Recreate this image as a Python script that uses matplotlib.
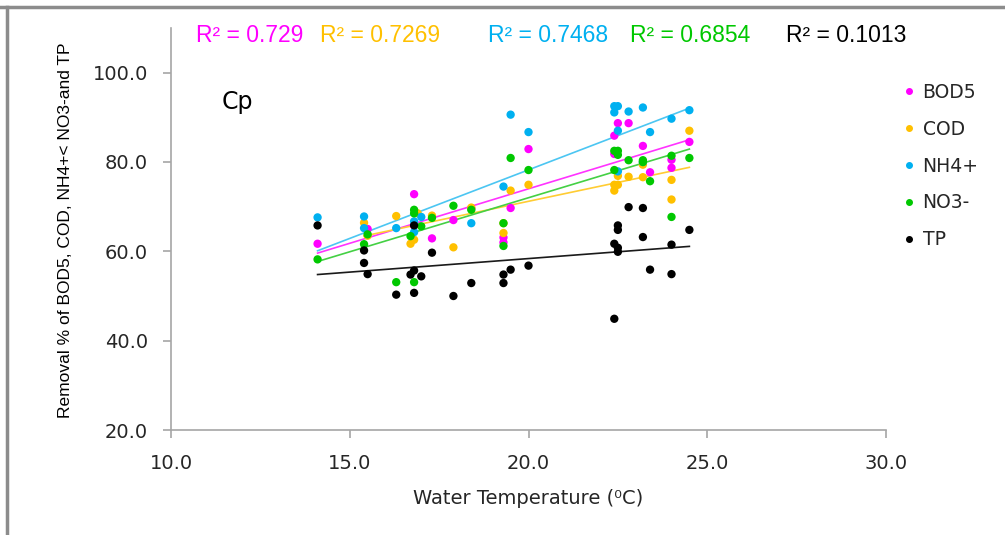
import matplotlib
matplotlib.use('Agg')
import matplotlib.pyplot as plt
from matplotlib.lines import Line2D
import numpy as np

# ---------------- data ----------------
bod5_x = [14.1, 15.5, 16.8, 16.8, 17.3, 17.9, 18.4, 19.3, 19.3, 19.5, 20.0,
          22.4, 22.4, 22.5, 22.8, 23.2, 23.4, 24.0, 24.0, 24.5]
bod5_y = [61.7, 65.0, 72.8, 65.8, 62.9, 67.0, 69.6, 63.1, 62.0, 69.7, 82.9,
          81.8, 85.9, 88.7, 88.7, 83.6, 77.7, 80.5, 78.7, 84.5]

cod_x = [15.4, 15.5, 16.3, 16.7, 16.8, 16.9, 17.3, 17.9, 18.4, 19.3, 19.3, 19.5, 20.0,
         22.4, 22.4, 22.5, 22.5, 22.8, 23.2, 23.2, 24.0, 24.0, 24.5]
cod_y = [66.4, 63.5, 67.9, 61.7, 62.6, 68.5, 68.0, 60.9, 69.8, 66.3, 64.1, 73.6, 74.9,
         74.9, 73.6, 76.9, 74.9, 76.7, 79.4, 76.6, 76.0, 71.6, 87.0]

nh4_x = [14.1, 15.4, 15.4, 16.3, 16.8, 16.8, 17.0, 18.4, 19.3, 19.5, 20.0,
         22.4, 22.5, 22.4, 22.5, 22.5, 22.8, 23.2, 23.2, 23.4, 24.0, 24.5]
nh4_y = [67.6, 67.8, 65.2, 65.2, 66.7, 64.3, 67.7, 66.3, 74.5, 90.6, 86.7,
         92.5, 92.5, 91.1, 87.0, 77.9, 91.3, 92.2, 80.0, 86.7, 89.7, 91.6]

no3_x = [14.1, 15.4, 15.5, 16.3, 16.7, 16.8, 16.8, 17.0, 16.8, 17.3, 17.9, 18.4,
         19.3, 19.3, 19.5, 20.0, 22.4, 22.5, 22.5, 22.4, 22.8, 23.2, 23.2, 23.4,
         24.0, 24.0, 24.5]
no3_y = [58.2, 61.6, 63.8, 53.1, 63.4, 69.3, 68.5, 65.6, 53.1, 67.5, 70.2, 69.3,
         66.3, 61.2, 80.9, 78.2, 82.5, 82.5, 81.6, 78.2, 80.4, 80.4, 80.0, 75.7,
         81.4, 67.7, 80.9]

tp_x = [14.1, 15.4, 15.4, 15.5, 16.3, 16.7, 16.8, 16.8, 16.8, 17.0, 17.3, 17.9,
        18.4, 19.3, 19.3, 19.5, 20.0, 22.4, 22.5, 22.5, 22.5, 22.5, 22.4, 22.8,
        23.2, 23.2, 23.4, 24.0, 24.0, 24.5]
tp_y = [65.8, 60.2, 57.4, 54.9, 50.3, 54.8, 55.7, 65.8, 50.7, 54.4, 59.7, 50.0,
        52.9, 54.8, 52.9, 55.9, 56.8, 61.7, 65.8, 64.8, 60.8, 59.9, 44.9, 69.9,
        69.7, 63.2, 55.9, 61.5, 54.9, 64.8]

series_names = ['BOD5', 'COD', 'NH4+', 'NO3-', 'TP']
# linear trend lines (slope, intercept)
trend_slope = [2.44, 1.69, 3.07, 2.42, 0.606]
trend_icpt = [25.2, 37.4, 16.84, 23.6, 46.26]
r2_labels = ['R\u00b2 = 0.729', 'R\u00b2 = 0.7269', 'R\u00b2 = 0.7468',
             'R\u00b2 = 0.6854', 'R\u00b2 = 0.1013']

x_ticks = [10.0, 15.0, 20.0, 25.0, 30.0]
y_ticks = [20.0, 40.0, 60.0, 80.0, 100.0]

# ---------------- styling ----------------
pt_colors = ['#FF00FF', '#FFC000', '#00B0F0', '#00C800', '#000000']
ln_colors = ['#FF33FF', '#FFCC33', '#4CC6F2', '#44D044', '#1A1A1A']
r2_colors = ['#FF00FF', '#FFC000', '#00B0F0', '#00C800', '#000000']
r2_x_px = [196, 320, 488, 630, 786]

W, H = 1005, 535
fig = plt.figure(figsize=(W / 100, H / 100), dpi=100)
ax = fig.add_axes([171 / W, 1 - 430 / H, (886 - 171) / W, (430 - 28) / H])

xs = [bod5_x, cod_x, nh4_x, no3_x, tp_x]
ys = [bod5_y, cod_y, nh4_y, no3_y, tp_y]

handles = []
for i in range(5):
    ax.scatter(xs[i], ys[i], s=36, color=pt_colors[i], edgecolors='none', zorder=3)
    xr = np.array([min(xs[i]), max(xs[i])])
    ax.plot(xr, trend_slope[i] * xr + trend_icpt[i], color=ln_colors[i], lw=1.2, zorder=2)
    handles.append(Line2D([], [], ls='none', marker='o', ms=4, color=pt_colors[i]))

ax.set_xlim(10, 30)
ax.set_ylim(20, 110)
ax.set_xticks(x_ticks)
ax.set_yticks(y_ticks)
ax.set_xticklabels([f'{v:.1f}' for v in x_ticks])
ax.set_yticklabels([f'{v:.1f}' for v in y_ticks])
for s in ['top', 'right']:
    ax.spines[s].set_visible(False)
for s in ['left', 'bottom']:
    ax.spines[s].set_color('#A6A6A6')
    ax.spines[s].set_linewidth(1.2)
ax.tick_params(axis='both', direction='out', length=5.5, width=1.2, color='#A6A6A6',
               labelsize=14, labelcolor='#262626')
ax.tick_params(axis='x', pad=12)
ax.tick_params(axis='y', pad=11)

ax.set_xlabel('Water Temperature (\u2070C)', fontsize=14, color='#262626', labelpad=11)
fig.text(66 / W, 1 - 230 / H, 'Removal % of BOD5, COD, NH4+< NO3-and TP',
         rotation=90, ha='center', va='center', fontsize=12.5,
         family=['Liberation Sans'], color='#000000')

fig.text(222 / W, 1 - 102 / H, 'Cp', fontsize=17, ha='left', va='center', color='#000000')

for i in range(5):
    fig.text(r2_x_px[i] / W, 1 - 36 / H, r2_labels[i], color=r2_colors[i],
             fontsize=16.5, ha='left', va='center',
             family=['Liberation Sans Narrow', 'Liberation Sans', 'DejaVu Sans'])

leg = fig.legend(handles, series_names, loc='upper left',
                 bbox_to_anchor=(900 / W, 1 - 83 / H), frameon=False,
                 fontsize=13.5, labelspacing=0.95, handletextpad=0.2,
                 handlelength=1.0, borderaxespad=0, borderpad=0)
for t in leg.get_texts():
    t.set_color('#262626')

# outer frame lines (top and left)
fig.add_artist(Line2D([0, 1], [1 - 7 / H, 1 - 7 / H], transform=fig.transFigure,
                      color='#8C8C8C', lw=2.5))
fig.add_artist(Line2D([7 / W, 7 / W], [0, 1 - 7 / H], transform=fig.transFigure,
                      color='#8C8C8C', lw=2.5))

fig.savefig('out.png', dpi=100)
